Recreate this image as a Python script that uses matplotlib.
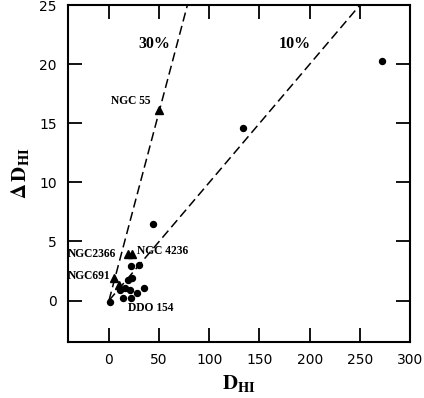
import numpy as np
import matplotlib
matplotlib.use("Agg")
import matplotlib.pyplot as plt

plt.rcParams["mathtext.fontset"] = "stix"

# galaxias (circulos)
d_dots = [272, 134, 43.5, 22, 30, 18.5, 23, 10.5, 15.5, 20.5, 13.5, 22, 27.5, 35, 1]
delta_dots = [20.3, 14.6, 6.5, 2.9, 3.0, 1.7, 1.9, 0.85, 1.1, 0.85, 0.2, 0.2, 0.6, 1.1, -0.1]

# galaxias con nombre (triangulos)
d_tri = [50, 18.5, 23, 5.5, 10]
delta_tri = [16.1, 3.9, 3.9, 1.9, 1.3]

# rectas de referencia (pendientes)
slopes = [0.32, 0.1]
slope_labels = ["30%", "10%"]

fig = plt.figure(figsize=(4.24, 3.98), dpi=100)
ax = fig.add_axes([0.160, 0.141, 0.807, 0.846])

for m in slopes:
    x = np.array([0, 25 / m])
    ax.plot(x, m * x, color="black", linestyle=(0, (6, 3)), linewidth=1.1)

ax.plot(d_dots, delta_dots, "o", color="black", markersize=4.3)
ax.plot(d_tri, delta_tri, "^", color="black", markersize=5.3)

serif = dict(family="Liberation Serif", weight="bold")
ax.text(45, 21.7, slope_labels[0], fontsize=11.5, ha="center", va="center", **serif)
ax.text(185, 21.7, slope_labels[1], fontsize=11.5, ha="center", va="center", **serif)
ax.text(41, 16.9, "NGC 55", fontsize=8.3, ha="right", va="center", **serif)
ax.text(-41, 3.9, "NGC2366", fontsize=8.3, ha="left", va="center", **serif)
ax.text(27.5, 4.2, "NGC 4236", fontsize=8.3, ha="left", va="center", **serif)
ax.text(-41, 2.1, "NGC691", fontsize=8.3, ha="left", va="center", **serif)
ax.text(18.5, -0.6, "DDO 154", fontsize=8.3, ha="left", va="center", **serif)

ax.set_xlim(-41, 300)
ax.set_ylim(-3.5, 25)
ax.set_xticks([0, 50, 100, 150, 200, 250, 300])
ax.set_yticks([0, 5, 10, 15, 20, 25])
ax.tick_params(direction="in", length=10, width=1.3, top=True, right=True,
               labelsize=10, pad=8)
for s in ax.spines.values():
    s.set_linewidth(1.5)

ax.set_xlabel(r"$\mathbf{D_{HI}}$", fontsize=15)
ax.set_ylabel(r"$\mathbf{\Delta\,D_{HI}}$", fontsize=15, labelpad=6)

fig.savefig("out.png", dpi=100)
